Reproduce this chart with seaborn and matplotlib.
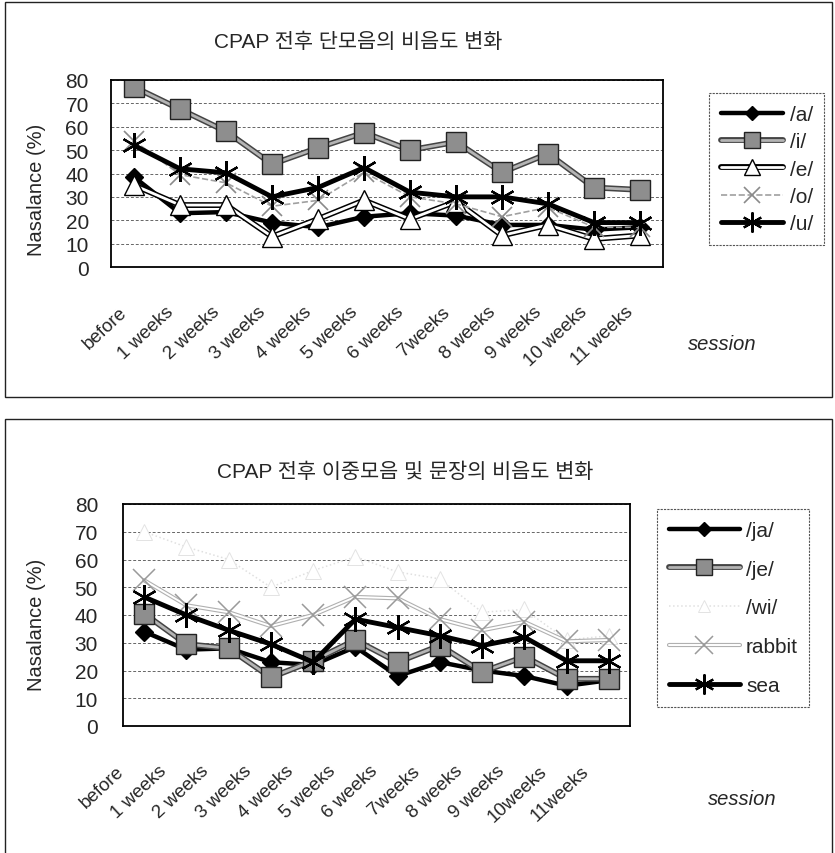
import numpy as np
import pandas as pd
import seaborn as sns
import matplotlib
matplotlib.use("Agg")
import matplotlib.pyplot as plt
from matplotlib.lines import Line2D
from matplotlib.patches import Rectangle
from matplotlib.legend_handler import HandlerTuple
from matplotlib.transforms import ScaledTranslation, blended_transform_factory

# ---------------- data ----------------
sessions_top = ["before", "1 weeks", "2 weeks", "3 weeks", "4 weeks", "5 weeks",
                "6 weeks", "7weeks", "8 weeks", "9 weeks", "10 weeks", "11 weeks"]
sessions_bottom = ["before", "1 weeks", "2 weeks", "3 weeks", "4 weeks", "5 weeks",
                   "6 weeks", "7weeks", "8 weeks", "9 weeks", "10weeks", "11weeks"]

a_vals = [38.5, 23, 23.5, 19, 17, 21.5, 23, 22, 18, 18, 16, 17]
i_vals = [77, 67.5, 58, 44, 51, 57.5, 50, 53.5, 40.5, 48.5, 34, 33]
e_vals = [35, 26.5, 26.5, 13, 20.5, 28.5, 20.5, 28, 13.5, 18, 12, 13.5]
o_vals = [54, 39.5, 36, 26, 28.5, 40.5, 30, 27, 21.5, 25.5, 17, 17]
u_vals = [52, 42, 40.3, 30, 34, 42.5, 32, 30, 30, 27, 19, 19]

ja_vals = [34, 27.5, 28, 23, 22, 28.5, 18, 23, 20, 18, 14.5, 16.5]
je_vals = [40.5, 29.5, 28, 17.5, 23.5, 31, 23, 29, 19.5, 25, 17, 17]
wi_vals = [70, 64.5, 60, 50, 56, 61, 55.5, 53, 41, 42, 31, 32.5]
rabbit_vals = [52.5, 43.5, 41, 36, 40, 46.5, 46, 38.5, 34.5, 37.5, 30.5, 31]
sea_vals = [46.5, 40, 34.5, 29.5, 23, 38.5, 35.5, 32.5, 29, 32, 23.5, 23.5]

top_labels = ["/a/", "/i/", "/e/", "/o/", "/u/"]
bottom_labels = ["/ja/", "/je/", "/wi/", "rabbit", "sea"]

title_top = "CPAP 전후 단모음의 비음도 변화"
title_bottom = "CPAP 전후 이중모음 및 문장의 비음도 변화"
y_label = "Nasalance (%)"
x_label = "session"
y_ticks = [0, 10, 20, 30, 40, 50, 60, 70, 80]

# ---------------- styles ----------------
ASTER = (6, 2, 0)
style_top = [
    dict(color="black", lw=3.2, marker="D", ms=9, mfc="black", mec="black", mew=1, ls="-", outline=None),
    dict(color="#b4b4b4", lw=2.0, marker="s", ms=14, mfc="#8e8e8e", mec="#222222", mew=1.0, ls="-", outline=("#444444", 4.2)),
    dict(color="white", lw=2.0, marker="^", ms=15, mfc="white", mec="black", mew=1.0, ls="-", outline=("black", 4.2)),
    dict(color="#a0a0a0", lw=1.2, marker="x", ms=14, mfc="none", mec="#8a8a8a", mew=1.2, ls="--", outline=None),
    dict(color="black", lw=3.5, marker=ASTER, ms=18, mfc="black", mec="black", mew=1.6, ls="-", outline=None),
]
style_bottom = [
    dict(color="black", lw=3.2, marker="D", ms=9, mfc="black", mec="black", mew=1, ls="-", outline=None),
    dict(color="#b4b4b4", lw=2.0, marker="s", ms=14, mfc="#8e8e8e", mec="#222222", mew=1.0, ls="-", outline=("#444444", 4.2)),
    dict(color="#e0e0e0", lw=1.1, marker="^", ms=11, mfc="white", mec="#e3e3e3", mew=0.7, ls=":", outline=None),
    dict(color="white", lw=1.4, marker="x", ms=16, mfc="none", mec="#9a9a9a", mew=1.1, ls="-", outline=("#b0b0b0", 3.0)),
    dict(color="black", lw=3.5, marker=ASTER, ms=18, mfc="black", mec="black", mew=1.6, ls="-", outline=None),
]

sns.set_theme(style="white")
plt.rcParams["font.family"] = ["Liberation Sans", "Noto Sans CJK KR", "DejaVu Sans"]

W, H = 835, 854
fig = plt.figure(figsize=(W / 100, H / 100), dpi=100)


def fx(px):
    return px / W


def fy(py):
    return 1 - py / H


def draw_series(ax, sessions, vals, st):
    df = pd.DataFrame({"session": sessions, "value": vals})
    if st["outline"] is not None:
        sns.lineplot(data=df, x="session", y="value", ax=ax, sort=False,
                     color=st["outline"][0], linewidth=st["outline"][1],
                     linestyle=st["ls"], legend=False)
    sns.lineplot(data=df, x="session", y="value", ax=ax, sort=False,
                 color=st["color"], linewidth=st["lw"], linestyle=st["ls"],
                 marker=st["marker"], markersize=st["ms"],
                 markerfacecolor=st["mfc"], markeredgecolor=st["mec"],
                 markeredgewidth=st["mew"], legend=False)


def legend_handles(styles):
    hs = []
    for st in styles:
        main = Line2D([], [], color=st["color"], linewidth=st["lw"], linestyle=st["ls"],
                      marker=st["marker"], markersize=st["ms"] * 0.8,
                      markerfacecolor=st["mfc"], markeredgecolor=st["mec"],
                      markeredgewidth=st["mew"])
        if st["outline"] is not None:
            out = Line2D([], [], color=st["outline"][0], linewidth=st["outline"][1],
                         linestyle=st["ls"])
            hs.append((out, main))
        else:
            hs.append(main)
    return hs


def panel(rect_px, sessions, series, styles, labels, title, title_xy,
          ylabel_xy, tick_pad, lab_off, session_xy, legend_xy, legend_spacing,
          handlelen):
    l, t, r, b = rect_px
    ax = fig.add_axes([fx(l), fy(b), fx(r) - fx(l), fy(t) - fy(b)])
    for vals, st in zip(series, styles):
        draw_series(ax, sessions, vals, st)
    ax.set_xlim(-0.5, len(sessions) - 0.5)
    ax.set_ylim(0, 80)
    ax.set_yticks(y_ticks)
    ax.set_yticklabels([str(v) for v in y_ticks], fontsize=15)
    ax.tick_params(axis="y", length=0, pad=tick_pad)
    ax.tick_params(axis="x", length=0, labelbottom=False)
    ax.set_xlabel("")
    ax.set_ylabel("")
    ax.grid(axis="y", linestyle=(0, (3, 2)), color="#666666", linewidth=0.7)
    ax.grid(axis="x", visible=False)
    ax.set_axisbelow(True)
    for sp in ax.spines.values():
        sp.set_visible(True)
        sp.set_color("black")
        sp.set_linewidth(1.3)
    trans = blended_transform_factory(ax.transData, ax.transAxes) + \
        ScaledTranslation(lab_off[0] / 100, lab_off[1] / 100, fig.dpi_scale_trans)
    for i, lab in enumerate(sessions):
        ax.text(i, 0, lab, transform=trans, rotation=43, rotation_mode="anchor",
                ha="right", va="top", fontsize=13.5)
    fig.text(fx(title_xy[0]), fy(title_xy[1]), title, ha="center", va="center", fontsize=15)
    fig.text(fx(ylabel_xy[0]), fy(ylabel_xy[1]), y_label, rotation=90,
             ha="center", va="center", fontsize=14.5)
    fig.text(fx(session_xy[0]), fy(session_xy[1]), x_label, ha="center", va="center",
             fontsize=14.5, style="italic")
    leg = fig.legend(legend_handles(styles), labels, loc="upper left",
                     bbox_to_anchor=(fx(legend_xy[0]), fy(legend_xy[1])),
                     handler_map={tuple: HandlerTuple(ndivide=1, pad=0)},
                     fontsize=15, handlelength=handlelen, handletextpad=0.3,
                     labelspacing=legend_spacing, borderpad=0.55,
                     frameon=True, fancybox=False, framealpha=1)
    fr = leg.get_frame()
    fr.set_edgecolor("#555555")
    fr.set_linewidth(0.8)
    fr.set_linestyle((0, (2, 1)))
    return ax


# outer panel frames
fig.patches.append(Rectangle((fx(5), fy(398)), fx(832) - fx(5), fy(3) - fy(398),
                             transform=fig.transFigure, fill=False, ec="#222222", lw=1.0))
fig.patches.append(Rectangle((fx(5), fy(870)), fx(832) - fx(5), fy(420) - fy(870),
                             transform=fig.transFigure, fill=False, ec="#222222", lw=1.0))

panel((111, 81, 663, 268), sessions_top,
      [a_vals, i_vals, e_vals, o_vals, u_vals], style_top, top_labels,
      title_top, (358, 42), (36, 190), 16, (-15, -36), (722, 345), (699, 84), 0.4, 3.0)

panel((123, 505, 630, 727), sessions_bottom,
      [ja_vals, je_vals, wi_vals, rabbit_vals, sea_vals], style_bottom, bottom_labels,
      title_bottom, (405, 472), (36, 625), 18, (-28, -36), (742, 800), (647, 500), 0.95, 3.4)

fig.savefig("out.png", dpi=100)
